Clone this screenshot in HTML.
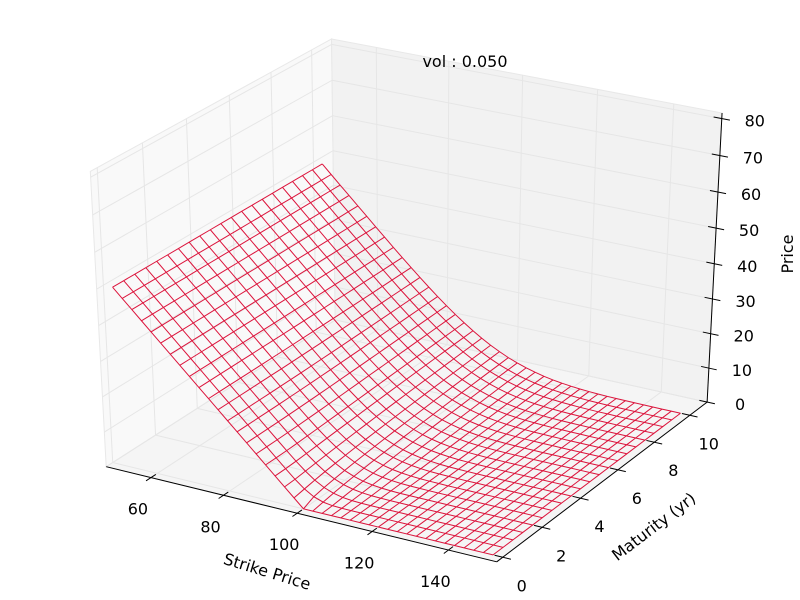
<!DOCTYPE html>
<html><head><meta charset="utf-8">
<style>
html,body{margin:0;padding:0;background:#fff;}
svg{display:block;font-family:"DejaVu Sans","Liberation Sans",sans-serif;}
</style></head>
<body>
<svg id="chart" width="800" height="600" viewBox="0 0 800 600" xmlns="http://www.w3.org/2000/svg">
<rect x="0" y="0" width="800" height="600" fill="#ffffff"/>
<g id="panes"></g>
<g id="grid"></g>
<g id="axes"></g>
<g id="surface"></g>
<g id="labels" font-size="16" fill="#000"></g>
<text x="465" y="67" font-size="16" text-anchor="middle">vol : 0.050</text>
<text x="267" y="577" font-size="16" text-anchor="middle" transform="rotate(17 267 572)">Strike Price</text>
<text x="654" y="532" font-size="16" text-anchor="middle" transform="rotate(-37.5 654 527)">Maturity (yr)</text>
<text x="787" y="260" font-size="16" text-anchor="middle" transform="rotate(-90 787 254)">Price</text>
</svg>
<script>
const strikes = [50,52.5,55,57.5,60,62.5,65,67.5,70,72.5,75,77.5,80,82.5,85,87.5,90,92.5,95,97.5,100,102.5,105,107.5,110,112.5,115,117.5,120,122.5,125,127.5,130,132.5,135,137.5,140,142.5,145,147.5,150];
const maturities = [0,0.5,1,1.5,2,2.5,3,3.5,4,4.5,5,5.5,6,6.5,7,7.5,8,8.5,9,9.5,10];
const priceT0 = [50,47.5,45,42.5,40,37.5,35,32.5,30,27.5,25,22.5,20,17.5,15,12.5,10,7.5,5,2.5,0,0,0,0,0,0,0,0,0,0,0,0,0,0,0,0,0,0,0,0,0];
const priceT05 = [50,47.5,45,42.5,40,37.5,35,32.5,30,27.5,25,22.5,20,17.5,15,12.5,10,7.52,5.13,3.0,1.41,0.50,0.13,0.02,0,0,0,0,0,0,0,0,0,0,0,0,0,0,0,0,0];
const priceT1 = [50,47.5,45,42.5,40,37.5,35,32.5,30,27.5,25,22.5,20,17.5,15,12.51,10.04,7.65,5.42,3.49,2.0,0.99,0.42,0.15,0.04,0.01,0,0,0,0,0,0,0,0,0,0,0,0,0,0,0];
const priceT15 = [50,47.5,45,42.5,40,37.5,35,32.5,30,27.5,25,22.5,20,17.5,15.01,12.55,10.13,7.82,5.72,3.90,2.44,1.40,0.72,0.32,0.13,0.05,0.01,0,0,0,0,0,0,0,0,0,0,0,0,0,0];
const priceT2 = [50,47.5,45,42.5,40,37.5,35,32.5,30,27.5,25,22.5,20,17.51,15.04,12.61,10.25,8.03,6.00,4.25,2.82,1.75,1.00,0.53,0.25,0.11,0.04,0.01,0,0,0,0,0,0,0,0,0,0,0,0,0];
const priceT25 = [50,47.5,45,42.5,40,37.5,35,32.5,30,27.5,25,22.5,20.02,17.54,15.09,12.69,10.39,8.22,6.27,4.56,3.16,2.06,1.27,0.72,0.39,0.19,0.09,0.04,0.02,0,0,0,0,0,0,0,0,0,0,0,0];
const priceT3 = [50,47.5,45,42.5,40,37.5,35,32.5,30,27.5,25,22.5,20.03,17.57,15.15,12.79,10.54,8.43,6.52,4.85,3.46,2.35,1.52,0.93,0.54,0.29,0.15,0.07,0.03,0,0,0,0,0,0,0,0,0,0,0,0];
const priceT35 = [50,47.5,45,42.5,40,37.5,35,32.5,30,27.5,25,22.52,20.05,17.61,15.22,12.89,10.68,8.62,6.76,5.12,3.73,2.62,1.76,1.12,0.68,0.39,0.22,0.11,0.05,0.02,0,0,0,0,0,0,0,0,0,0,0];
const priceT4 = [50,47.5,45,42.5,40,37.5,35,32.5,30,27.5,25.02,22.55,20.09,17.66,15.29,13.01,10.83,8.81,6.98,5.37,3.99,2.87,1.98,1.31,0.83,0.51,0.29,0.16,0.09,0.05,0.02,0,0,0,0,0,0,0,0,0,0];
const priceT45 = [50,47.5,45,42.5,40,37.5,35,32.5,30,27.51,25.04,22.56,20.12,17.71,15.38,13.13,10.98,9.00,7.20,5.60,4.23,3.10,2.20,1.50,0.98,0.63,0.38,0.21,0.12,0.06,0.04,0.01,0,0,0,0,0,0,0,0,0];
const priceT5 = [50,47.5,45,42.5,40,37.5,35,32.5,30,27.52,25.05,22.59,20.17,17.78,15.47,13.24,11.13,9.18,7.40,5.82,4.46,3.32,2.40,1.68,1.13,0.74,0.47,0.28,0.17,0.09,0.05,0.02,0,0,0,0,0,0,0,0,0];
const priceT55 = [50,47.5,45,42.5,40,37.5,35,32.5,30.02,27.54,25.07,22.62,20.21,17.85,15.56,13.37,11.29,9.37,7.60,6.04,4.68,3.54,2.60,1.87,1.29,0.87,0.56,0.35,0.21,0.12,0.07,0.04,0.02,0,0,0,0,0,0,0,0];
const priceT6 = [50,47.5,45,42.5,40,37.5,35,32.5,30.03,27.56,25.10,22.66,20.27,17.93,15.65,13.48,11.43,9.53,7.79,6.24,4.89,3.74,2.79,2.03,1.43,0.98,0.65,0.43,0.27,0.16,0.10,0.06,0.03,0,0,0,0,0,0,0,0];
const priceT65 = [50,47.5,45,42.5,40,37.5,35,32.52,30.04,27.57,25.12,22.70,20.32,18.00,15.75,13.60,11.58,9.69,7.98,6.44,5.09,3.94,2.98,2.19,1.58,1.10,0.75,0.50,0.32,0.20,0.12,0.07,0.04,0.02,0,0,0,0,0,0,0];
const priceT7 = [50,47.5,45,42.5,40,37.5,35,32.53,30.05,27.59,25.15,22.74,20.37,18.08,15.85,13.72,11.72,9.86,8.16,6.63,5.28,4.13,3.16,2.36,1.72,1.22,0.85,0.58,0.37,0.24,0.15,0.09,0.05,0.03,0,0,0,0,0,0,0];
const priceT75 = [50,47.5,45,42.5,40,37.5,35.02,32.55,30.07,27.61,25.18,22.79,20.44,18.16,15.94,13.84,11.86,10.01,8.34,6.80,5.46,4.30,3.34,2.51,1.86,1.34,0.94,0.66,0.44,0.29,0.18,0.11,0.07,0.05,0.02,0,0,0,0,0,0];
const priceT8 = [50,47.5,45,42.5,40,37.5,35.03,32.56,30.09,27.64,25.21,22.84,20.51,18.22,16.05,13.96,12.00,10.17,8.51,6.98,5.64,4.48,3.51,2.67,2.00,1.46,1.05,0.72,0.51,0.34,0.21,0.14,0.09,0.06,0.03,0,0,0,0,0,0];
const priceT85 = [50,47.5,45,42.5,40,37.52,35.04,32.57,30.11,27.66,25.26,22.88,20.57,18.32,16.15,14.07,12.13,10.33,8.66,7.15,5.82,4.65,3.66,2.83,2.13,1.57,1.15,0.82,0.57,0.38,0.26,0.16,0.11,0.07,0.04,0.02,0,0,0,0,0];
const priceT9 = [50,47.5,45,42.5,40,37.53,35.06,32.58,30.13,27.69,25.30,22.94,20.65,18.40,16.25,14.20,12.27,10.47,8.83,7.32,5.98,4.82,3.83,2.97,2.27,1.70,1.25,0.90,0.65,0.44,0.30,0.19,0.13,0.08,0.06,0.03,0,0,0,0,0];
const priceT95 = [50,47.5,45,42.5,40.03,37.55,35.07,32.60,30.15,27.73,25.34,22.99,20.71,18.49,16.34,14.32,12.40,10.61,8.98,7.46,6.15,4.96,3.98,3.11,2.40,1.82,1.34,0.99,0.71,0.49,0.34,0.23,0.15,0.10,0.07,0.05,0.03,0,0,0,0];
const priceT10 = [50,47.5,45,42.53,40.04,37.56,35.08,32.62,30.17,27.75,25.38,23.05,20.77,18.57,16.44,14.43,12.55,10.76,9.13,7.62,6.31,5.12,4.13,3.26,2.55,1.93,1.44,1.07,0.77,0.55,0.38,0.25,0.17,0.12,0.08,0.06,0.04,0.03,0,0,0];
const priceRows = [priceT0,priceT05,priceT1,priceT15,priceT2,priceT25,priceT3,priceT35,priceT4,priceT45,priceT5,priceT55,priceT6,priceT65,priceT7,priceT75,priceT8,priceT85,priceT9,priceT95,priceT10];
const strikeTicks = [60,80,100,120,140];
const maturityTicks = [0,2,4,6,8,10];
const priceTicks = [0,10,20,30,40,50,60,70,80];

const kLim=[47.5,152.5], tLim=[-0.3,11], zLim=[0,81.5];
const NS="http://www.w3.org/2000/svg";
const el=30*Math.PI/180, az=-60*Math.PI/180, dist=10;
const R=[0.5,0.5,0.5];
const eye=[R[0]+dist*Math.cos(el)*Math.cos(az),R[1]+dist*Math.cos(el)*Math.sin(az),R[2]+dist*Math.sin(el)];
function sub(a,b){return [a[0]-b[0],a[1]-b[1],a[2]-b[2]];}
function dot(a,b){return a[0]*b[0]+a[1]*b[1]+a[2]*b[2];}
function cross(a,b){return [a[1]*b[2]-a[2]*b[1],a[2]*b[0]-a[0]*b[2],a[0]*b[1]-a[1]*b[0]];}
function norm(a){const l=Math.sqrt(dot(a,a));return [a[0]/l,a[1]/l,a[2]/l];}
const fw=norm(sub(R,eye)), rt=norm(cross(fw,[0,0,1])), up=cross(rt,fw);
function rawProj(u,v,w){const p=sub([u,v,w],eye);const d=dot(p,fw);return [dot(p,rt)/d,dot(p,up)/d];}
const refs=[[0,0,0,105,467],[1,0,0,498,562],[1,1,0,707,402],[1,1,1,722,113],[0,0,1,92,170],[0,1,1,330,40]];
function fit(idx){let n=refs.length,sx=0,sy=0,sxx=0,sxy=0;
  refs.forEach(r=>{const p=rawProj(r[0],r[1],r[2])[idx];const s=r[3+idx];sx+=p;sy+=s;sxx+=p*p;sxy+=p*s;});
  const a=(n*sxy-sx*sy)/(n*sxx-sx*sx);return [a,(sy-a*sx)/n];}
const fx=fit(0), fy=fit(1);
function nu(K){return (K-kLim[0])/(kLim[1]-kLim[0]);}
function nv(T){return (T-tLim[0])/(tLim[1]-tLim[0]);}
function nw(Z){return (Z-zLim[0])/(zLim[1]-zLim[0]);}
function projN(u,v,w){const p=rawProj(u,v,w);return [fx[0]*p[0]+fx[1],fy[0]*p[1]+fy[1]];}
function proj(K,T,Z){return projN(nu(K),nv(T),nw(Z));}
function pts(arr){return arr.map(p=>p[0].toFixed(2)+","+p[1].toFixed(2)).join(" ");}

const panes=document.getElementById('panes');
function poly(corners,fill){const e=document.createElementNS(NS,'polygon');
  e.setAttribute('points',pts(corners.map(c=>projN(c[0],c[1],c[2]))));
  e.setAttribute('fill',fill);e.setAttribute('stroke','#e8e8e8');e.setAttribute('stroke-width','1');
  return e;}
let e;
e=poly([[0,0,0],[1,0,0],[1,1,0],[0,1,0]],'#f5f5f5');


panes.appendChild(e);
e=poly([[0,0,0],[0,1,0],[0,1,1],[0,0,1]],'#f9f9f9');


panes.appendChild(e);
e=poly([[0,1,0],[1,1,0],[1,1,1],[0,1,1]],'#f2f2f2');


panes.appendChild(e);

const grid=document.getElementById('grid');
function line(a,b,col,w){const l=document.createElementNS(NS,'line');
  l.setAttribute('x1',a[0].toFixed(2));l.setAttribute('y1',a[1].toFixed(2));
  l.setAttribute('x2',b[0].toFixed(2));l.setAttribute('y2',b[1].toFixed(2));
  l.setAttribute('stroke',col);l.setAttribute('stroke-width',w);return l;}
strikeTicks.forEach(k=>{const u=nu(k);
  let g=line(projN(u,0,0),projN(u,1,0),'#e6e6e6',1);
  
  
  grid.appendChild(g);
  g=line(projN(u,1,0),projN(u,1,1),'#e6e6e6',1);
  
  
  grid.appendChild(g);});
maturityTicks.forEach(t=>{const v=nv(t);
  let g=line(projN(0,v,0),projN(1,v,0),'#e6e6e6',1);
  
  
  grid.appendChild(g);
  g=line(projN(0,v,0),projN(0,v,1),'#e6e6e6',1);
  
  
  grid.appendChild(g);});
priceTicks.forEach(z=>{const w=nw(z);
  let g=line(projN(0,1,w),projN(1,1,w),'#e6e6e6',1);
  
  
  grid.appendChild(g);
  g=line(projN(0,0,w),projN(0,1,w),'#e6e6e6',1);
  
  
  grid.appendChild(g);});

const axes=document.getElementById('axes');
const labels=document.getElementById('labels');
let a=line(projN(0,0,0),projN(1,0,0),'#000',1);


axes.appendChild(a);
a=line(projN(1,0,0),projN(1,1,0),'#000',1);


axes.appendChild(a);
a=line(projN(1,1,0),projN(1,1,1),'#000',1);


axes.appendChild(a);
function label(p,txt,name){const t=document.createElementNS(NS,'text');
  t.setAttribute('x',p[0].toFixed(1));t.setAttribute('y',(p[1]+6).toFixed(1));
  t.setAttribute('text-anchor','middle');t.textContent=txt;
  
  
  labels.appendChild(t);}
const d=0.02;
strikeTicks.forEach(k=>{const u=nu(k);
  const tk=line(projN(u,-d,0),projN(u,d,0),'#000',1);
  
  
  axes.appendChild(tk);
  const p=projN(u,0,0);label([p[0]-13,p[1]+31],String(k),'strike-tick-label');});
maturityTicks.forEach(t=>{const v=nv(t);
  const tk=line(projN(1-d,v,0),projN(1+d,v,0),'#000',1);
  
  
  axes.appendChild(tk);
  const p=projN(1,v,0);label([p[0]+19,p[1]+28],String(t),'maturity-tick-label');});
priceTicks.forEach(z=>{const w=nw(z);
  const tk=line(projN(1-d,1,w),projN(1+d,1,w),'#000',1);
  
  
  axes.appendChild(tk);
  const p=projN(1,1,w);label([p[0]+33,p[1]+2],String(z),'price-tick-label');});

const surf=document.getElementById('surface');
function pl(points,name){const p=document.createElementNS(NS,'polyline');
  p.setAttribute('points',pts(points));p.setAttribute('fill','none');
  p.setAttribute('stroke','#dc143c');p.setAttribute('stroke-width','1');
  
  
  surf.appendChild(p);}
maturities.forEach((t,j)=>{pl(strikes.map((k,i)=>proj(k,t,priceRows[j][i])),'maturity-wire');});
strikes.forEach((k,i)=>{pl(maturities.map((t,j)=>proj(k,t,priceRows[j][i])),'strike-wire');});
</script>
</body></html>
